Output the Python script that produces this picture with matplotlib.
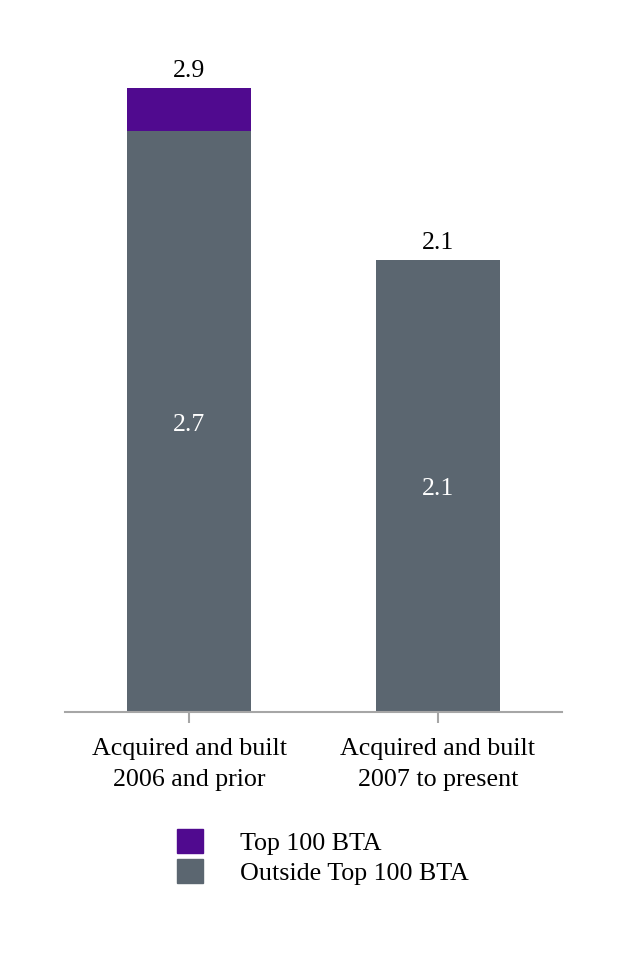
import matplotlib.pyplot as plt
from matplotlib.patches import Patch

plt.rcParams['font.family'] = ['Liberation Serif', 'DejaVu Serif']

categories = ["Acquired and built\n2006 and prior", "Acquired and built\n2007 to present"]
outside_top100 = [2.7, 2.1]
top100 = [0.2, 0.0]
totals = [2.9, 2.1]

purple = "#500a8f"
gray = "#5b6670"

fig = plt.figure(figsize=(6.26, 9.6), dpi=100)
ax = fig.add_axes([65 / 626, 248 / 960, 497 / 626, 688 / 960])

x = list(range(len(categories)))
ax.bar(x, outside_top100, width=0.5, color=gray, label="Outside Top 100 BTA")
ax.bar(x, top100, width=0.5, bottom=outside_top100, color=purple, label="Top 100 BTA")

for i in x:
    ax.text(i, outside_top100[i] / 2 - 0.015, f"{outside_top100[i]:.1f}", ha="center", va="center",
            color="white", fontsize=18.5)
    ax.text(i, totals[i] + 0.03, f"{totals[i]:.1f}", ha="center", va="bottom",
            color="black", fontsize=18.5)

ax.set_xlim(-0.5, 1.5)
ax.set_ylim(0, 3.2)
ax.set_xticks(x)
ax.set_xticklabels(categories, fontsize=18.7, linespacing=1.55)
ax.tick_params(axis="x", length=8, width=1.5, color="#a6a6a6", pad=10.5)
ax.set_yticks([])
for s in ["top", "right", "left"]:
    ax.spines[s].set_visible(False)
ax.spines["bottom"].set_color("#a6a6a6")
ax.spines["bottom"].set_linewidth(1.5)

handles = [Patch(color=purple), Patch(color=gray)]
fig.legend(handles, ["Top 100 BTA", "Outside Top 100 BTA"], loc="upper left",
           bbox_to_anchor=(154 / 626, 1 - 806 / 960), frameon=False, fontsize=18.7,
           handlelength=1.0, handleheight=1.0, handletextpad=1.4, labelspacing=0.17)

fig.savefig("out.png", dpi=100)
